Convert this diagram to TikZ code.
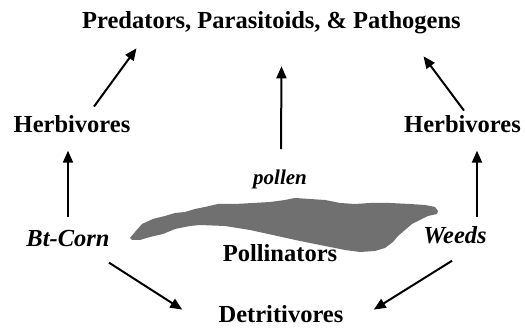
\documentclass[tikz,border=0pt]{standalone}
\usepackage{fontspec}
\setmainfont{Liberation Serif}
\usetikzlibrary{arrows.meta}
\definecolor{blobgray}{RGB}{112,112,112}
\begin{document}
\begin{tikzpicture}[x=0.5pt,y=-0.5pt,
  lbl/.style={font=\fontsize{12.25}{14}\selectfont\bfseries, anchor=base, inner sep=0pt},
  ilbl/.style={lbl, font=\fontsize{12.25}{14}\selectfont\bfseries\itshape},
  arr/.style={line width=1pt, -{Triangle[length=6pt,width=5pt]}}]
\useasboundingbox (0,0) rectangle (525,330);

% pollen cloud
\fill[blobgray] (130,238) -- (135,232) -- (142,224) -- (153,219) -- (165,216) -- (175,213)
  -- (185,212) -- (195,209) -- (205,207) -- (218,204) -- (235,204) -- (253,203)
  -- (270,202) -- (285,200) -- (295,198) -- (310,199) -- (325,200) -- (340,203)
  -- (355,204) -- (370,203) -- (390,203) -- (410,204) -- (425,205) -- (435,207)
  -- (438,211) -- (437,214) -- (428,216) -- (420,220) -- (412,224) -- (405,230)
  -- (398,236) -- (393,242) -- (385,248) -- (375,251) -- (360,252) -- (345,250)
  -- (300,241) -- (250,230) -- (225,226) -- (200,225) -- (190,226) -- (175,229)
  -- (163,234) -- (150,237) -- (140,240) -- (132,240) -- cycle;

% labels
\node[lbl] (title) at (271.5,29) {Predators, Parasitoids, \& Pathogens};
\node[lbl] (herbL) at (72,133) {Herbivores};
\node[lbl] (herbR) at (462.5,133) {Herbivores};
\node[ilbl] (corn) at (68,247) {Bt-Corn};
\node[ilbl] (weeds) at (455,244) {Weeds};
\node[lbl, font=\fontsize{10.5}{12}\selectfont\bfseries\itshape] (pollen) at (280,185) {pollen};
\node[lbl] (poll) at (280,262) {Pollinators};
\node[lbl] (detr) at (281,323) {Detritivores};

% connectors
\draw[arr] ([shift={(22,-9)}]herbL.north) -- ([shift={(-135,13.5)}]title.south);
\draw[arr] ([shift={(1,-21)}]pollen.north) -- ([shift={(10,31.5)}]title.south);
\draw[arr] ([shift={(1.5,-5)}]herbR.north) -- ([shift={(152,21.5)}]title.south);
\draw[arr, shorten <=6.5pt, shorten >=8.5pt] (corn.north) -- (corn.north |- herbL.south);
\draw[arr, shorten <=5pt, shorten >=8.5pt] ([xshift=11pt]weeds.north) -- ([xshift=11pt]weeds.north |- herbR.south);
\draw[arr] ([shift={(41,15)}]corn.south) -- ([shift={(-36,-5)}]detr.west);
\draw[arr] ([shift={(-3,16)}]weeds.south) -- ([shift={(30,-5)}]detr.east);
\end{tikzpicture}
\end{document}
